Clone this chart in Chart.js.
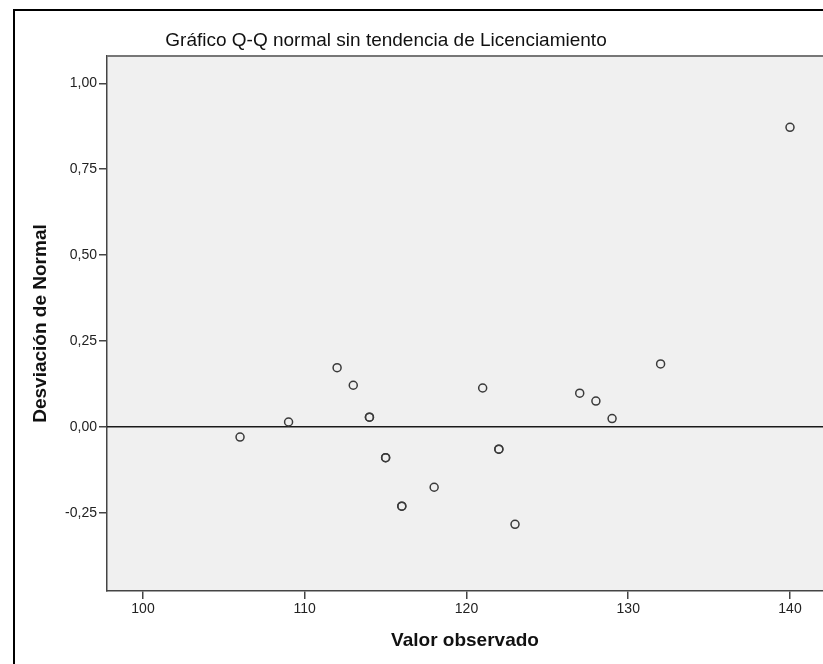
<!DOCTYPE html>
<html>
<head>
<meta charset="utf-8">
<script src="https://cdn.jsdelivr.net/npm/chart.js@4.4.1/dist/chart.umd.min.js"></script>
<style>
  html, body { margin: 0; padding: 0; background: #ffffff; }
  #wrap { width: 823px; height: 664px; position: relative; }
</style>
</head>
<body>
<div id="wrap"><canvas id="c" width="823" height="664"></canvas></div>
<script>
// ---- data ----
const chartTitle = "Gráfico Q-Q normal sin tendencia de Licenciamiento";
const xAxisTitle = "Valor observado";
const yAxisTitle = "Desviación de Normal";
const xObserved  = [106, 109, 112, 113, 114, 114, 115, 115, 116, 116, 118, 121, 122, 122, 123, 127, 128, 129, 132, 140];
const yDeviation = [-0.030, 0.014, 0.172, 0.121, 0.028, 0.028, -0.090, -0.090, -0.231, -0.231, -0.176, 0.113, -0.065, -0.065, -0.284, 0.098, 0.075, 0.024, 0.183, 0.872];
const xTicks = [100, 110, 120, 130, 140];
const xTickLabels = ["100", "110", "120", "130", "140"];
const yTicks = [-0.25, 0, 0.25, 0.5, 0.75, 1.0];
const yTickLabels = ["-0,25", "0,00", "0,25", "0,50", "0,75", "1,00"];
const xRange = [97.775, 142.04];
const yRange = [-0.478, 1.0795];
const referenceY = 0;

const FONT = "'Liberation Sans', Arial, sans-serif";

const points = xObserved.map((x, i) => ({ x: x, y: yDeviation[i] }));

const decorPlugin = {
  id: 'decor',
  beforeDraw(chart) {
    const { ctx, chartArea: a } = chart;
    ctx.save();
    ctx.fillStyle = '#ffffff';
    ctx.fillRect(0, 0, chart.width, chart.height);
    ctx.fillStyle = '#f0f0f0';
    ctx.fillRect(a.left, a.top, a.right - a.left, a.bottom - a.top);
    ctx.restore();
  },
  beforeDatasetsDraw(chart) {
    const { ctx, chartArea: a, scales } = chart;
    const y0 = scales.y.getPixelForValue(referenceY);
    ctx.save();
    ctx.strokeStyle = '#1a1a1a';
    ctx.lineWidth = 1.5;
    ctx.beginPath();
    ctx.moveTo(a.left, y0);
    ctx.lineTo(a.right, y0);
    ctx.stroke();
    // top border of plot
    ctx.strokeStyle = '#777777';
    ctx.lineWidth = 2;
    ctx.beginPath();
    ctx.moveTo(a.left, a.top);
    ctx.lineTo(a.right, a.top);
    ctx.stroke();
    ctx.restore();
  },
  afterDraw(chart) {
    const { ctx, chartArea: a } = chart;
    ctx.save();
    // outer frame
    ctx.strokeStyle = '#000000';
    ctx.lineWidth = 2;
    ctx.beginPath();
    ctx.moveTo(14, chart.height);
    ctx.lineTo(14, 10);
    ctx.lineTo(chart.width, 10);
    ctx.stroke();
    // titles
    ctx.fillStyle = '#111111';
    ctx.textAlign = 'center';
    ctx.textBaseline = 'middle';
    ctx.font = "normal 19px " + FONT;
    ctx.fillText(chartTitle, 386, 41);
    ctx.font = "bold 19px " + FONT;
    ctx.fillText(xAxisTitle, (a.left + a.right) / 2, 641);
    ctx.translate(41, (a.top + a.bottom) / 2);
    ctx.rotate(-Math.PI / 2);
    ctx.fillText(yAxisTitle, 0, 0);
    ctx.restore();
  }
};

new Chart(document.getElementById('c'), {
  type: 'scatter',
  data: {
    datasets: [{
      data: points,
      pointRadius: 4,
      pointHoverRadius: 4,
      pointBorderWidth: 1.5,
      pointBorderColor: '#3a3a3a',
      pointBackgroundColor: 'rgba(0,0,0,0)',
      showLine: false,
      clip: false
    }]
  },
  options: {
    responsive: false,
    animation: false,
    devicePixelRatio: 1,
    layout: { autoPadding: false, padding: { top: 56, left: 0, right: 0, bottom: 0 } },
    plugins: {
      legend: { display: false },
      tooltip: { enabled: false },
      title: { display: false }
    },
    scales: {
      x: {
        type: 'linear',
        min: xRange[0],
        max: xRange[1],
        afterBuildTicks: (s) => { s.ticks = xTicks.map(v => ({ value: v })); },
        afterFit: (s) => { s.height = 73; },
        ticks: {
          autoSkip: false,
          maxRotation: 0,
          padding: 2,
          color: '#222222',
          font: { family: FONT, size: 14 },
          callback: (v) => { const i = xTicks.indexOf(v); return i >= 0 ? xTickLabels[i] : ''; }
        },
        grid: { drawOnChartArea: false, drawTicks: true, tickLength: 8, color: '#444444', lineWidth: 1.5 },
        border: { display: true, color: '#444444', width: 1.5 }
      },
      y: {
        type: 'linear',
        min: yRange[0],
        max: yRange[1],
        afterBuildTicks: (s) => { s.ticks = yTicks.map(v => ({ value: v })); },
        afterFit: (s) => { s.width = 107; },
        ticks: {
          autoSkip: false,
          padding: 2,
          color: '#222222',
          font: { family: FONT, size: 14 },
          callback: (v) => { const i = yTicks.indexOf(v); return i >= 0 ? yTickLabels[i] : ''; }
        },
        grid: { drawOnChartArea: false, drawTicks: true, tickLength: 8, color: '#444444', lineWidth: 1.5 },
        border: { display: true, color: '#444444', width: 1.5 }
      }
    }
  },
  plugins: [decorPlugin]
});
</script>
</body>
</html>
